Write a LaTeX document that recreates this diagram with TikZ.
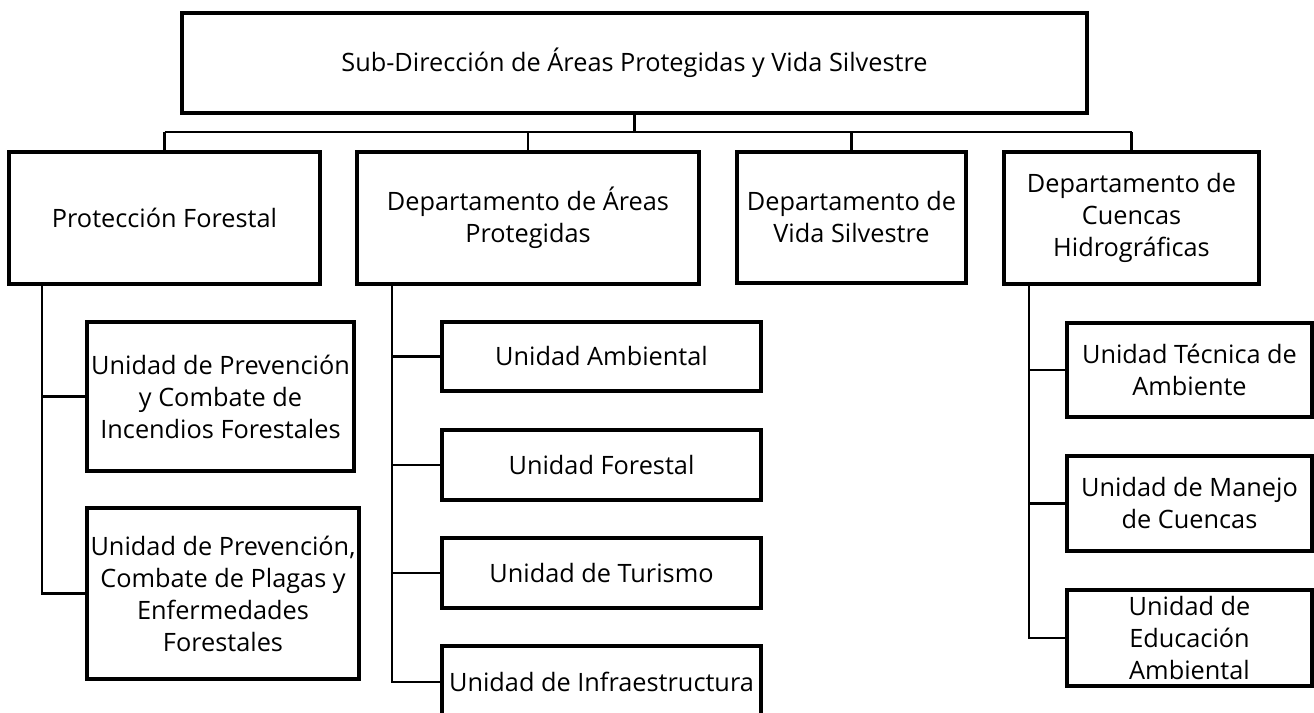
\documentclass[tikz,border=0pt]{standalone}
\usepackage{fontspec}
\setmainfont{Open Sans}
\begin{document}
\begin{tikzpicture}[x=1pt,y=-1pt,
  boxstyle/.style={draw=black,line width=3.4pt,fill=white,inner sep=0pt,align=center,
    font=\fontsize{25.3}{32}\selectfont},
  link/.style={draw=black,line width=2.4pt}]
\clip (0,0) rectangle (1314,712);
\fill[white] (0,0) rectangle (1314,712);
% top
\node[boxstyle,minimum width=905pt,minimum height=100pt] (top) at (634.5,63) {Sub-Dirección de Áreas Protegidas y Vida Silvestre};
% departments
\node[boxstyle,minimum width=311pt,minimum height=132pt] (prot) at (164.5,218) {Protección Forestal};
\node[boxstyle,minimum width=342pt,minimum height=132pt] (dap) at (528,218) {Departamento de Áreas\\Protegidas};
\node[boxstyle,minimum width=229pt,minimum height=131pt] (dvs) at (851.5,217.5) {Departamento de\\Vida Silvestre};
\node[boxstyle,minimum width=255pt,minimum height=132pt] (dch) at (1131.5,218) {Departamento de\\Cuencas\\Hidrográficas};
% units under Protección Forestal
\node[boxstyle,minimum width=267pt,minimum height=149pt] (u1) at (220.5,396.5) {Unidad de Prevención\\y Combate de\\Incendios Forestales};
\node[boxstyle,minimum width=272pt,minimum height=171pt] (u2) at (223,593.5) {Unidad de Prevención,\\Combate de Plagas y\\Enfermedades\\Forestales};
% units under Áreas Protegidas
\node[boxstyle,minimum width=319pt,minimum height=69pt] (ua) at (601.5,356.5) {Unidad Ambiental};
\node[boxstyle,minimum width=319pt,minimum height=70pt] (uf) at (601.5,465) {Unidad Forestal};
\node[boxstyle,minimum width=319pt,minimum height=70pt] (ut) at (601.5,573) {Unidad de Turismo};
\node[boxstyle,minimum width=319pt,minimum height=72pt] (ui) at (601.5,682) {Unidad de Infraestructura};
% units under Cuencas
\node[boxstyle,minimum width=245pt,minimum height=94pt] (utec) at (1189.5,370) {Unidad Técnica de\\Ambiente};
\node[boxstyle,minimum width=245pt,minimum height=95pt] (um) at (1189.5,503.5) {Unidad de Manejo\\de Cuencas};
\node[boxstyle,minimum width=245pt,minimum height=96pt] (ue) at (1189.5,638) {Unidad de\\Educación\\Ambiental};
% connector helpers
\coordinate (bus) at (0,132);
\coordinate (s1) at (41.7,0);
\coordinate (s2) at (392,0);
\coordinate (s3) at (1029,0);
% top tree
\draw[link] (top.south) -- (top.south |- bus);
\draw[link] (prot.north |- bus) -- (dch.north |- bus);
\draw[link] (prot.north) -- (prot.north |- bus);
\draw[link] (dap.north) -- (dap.north |- bus);
\draw[link] (dvs.north) -- (dvs.north |- bus);
\draw[link] (dch.north) -- (dch.north |- bus);
% Protección spine
\draw[link] (prot.south -| s1) -- (s1 |- u2.west) -- (u2.west);
\draw[link] (s1 |- u1.west) -- (u1.west);
% Áreas spine
\draw[link] (dap.south -| s2) -- (s2 |- ui.west) -- (ui.west);
\draw[link] (s2 |- ua.west) -- (ua.west);
\draw[link] (s2 |- uf.west) -- (uf.west);
\draw[link] (s2 |- ut.west) -- (ut.west);
% Cuencas spine
\draw[link] (dch.south -| s3) -- (s3 |- ue.west) -- (ue.west);
\draw[link] (s3 |- utec.west) -- (utec.west);
\draw[link] (s3 |- um.west) -- (um.west);
\end{tikzpicture}
\end{document}
